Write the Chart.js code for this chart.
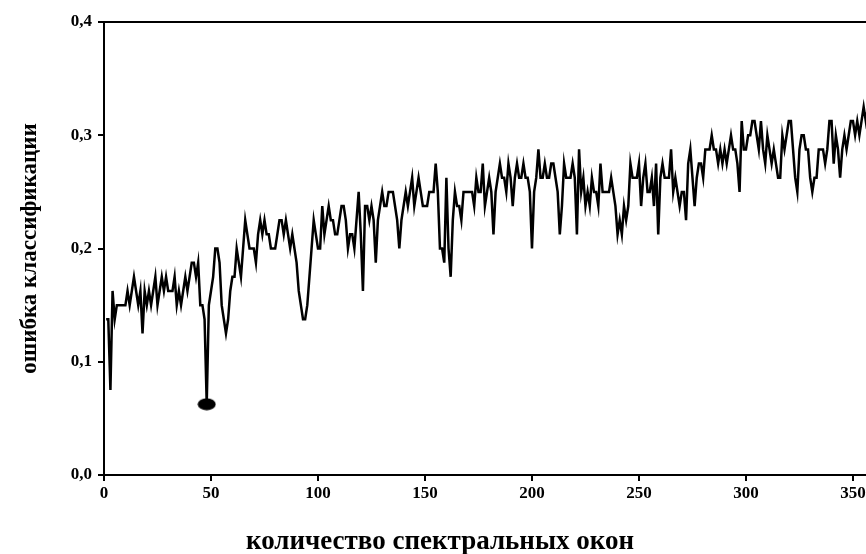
<!DOCTYPE html>
<html>
<head>
<meta charset="utf-8">
<script src="https://cdn.jsdelivr.net/npm/chart.js@4/dist/chart.umd.min.js"></script>
<style>
  html, body { margin: 0; padding: 0; background: #fff; overflow: hidden; }
  #wrap { position: absolute; left: 0; top: 0; width: 930px; height: 554px; }
</style>
</head>
<body>
<div id="wrap"><canvas id="errChart"></canvas></div>
<script>
// classification error for 1..357 spectral windows
const errorRate = [
  .1375, .1375, .075, .1625, .1375, .15, .15, .15, .15, .15,
  .1625, .15, .1625, .175, .1625, .15, .1625, .125, .1625, .15,
  .1625, .15, .1625, .175, .15, .1625, .175, .1625, .175, .1625,
  .1625, .1625, .175, .15, .1625, .15, .1625, .175, .1625, .175,
  .1875, .1875, .175, .1875, .15, .15, .1375, .0625, .15, .1625,
  .175, .2, .2, .1875, .15, .1375, .125, .1375, .1625, .175,
  .175, .2, .1875, .175, .2, .225, .2125, .2, .2, .2,
  .1875, .2125, .225, .2125, .225, .2125, .2125, .2, .2, .2,
  .2125, .225, .225, .2125, .225, .2125, .2, .2125, .2, .1875,
  .1625, .15, .1375, .1375, .15, .175, .2, .225, .2125, .2,
  .2, .2375, .2125, .225, .2375, .225, .225, .2125, .2125, .225,
  .2375, .2375, .225, .2, .2125, .2125, .2, .225, .25, .2125,
  .1625, .2375, .2375, .225, .2375, .225, .1875, .225, .2375, .25,
  .2375, .2375, .25, .25, .25, .2375, .225, .2, .225, .2375,
  .25, .2375, .25, .2625, .2375, .25, .2625, .25, .2375, .2375,
  .2375, .25, .25, .25, .275, .25, .2, .2, .1875, .2625,
  .2, .175, .225, .25, .2375, .2375, .225, .25, .25, .25,
  .25, .25, .2375, .2625, .25, .25, .275, .2375, .25, .2625,
  .25, .2125, .25, .2625, .275, .2625, .2625, .25, .275, .2625,
  .2375, .2625, .275, .2625, .2625, .275, .2625, .2625, .25, .2,
  .25, .2625, .2875, .2625, .2625, .275, .2625, .2625, .275, .275,
  .2625, .25, .2125, .2375, .275, .2625, .2625, .2625, .275, .2625,
  .2125, .2875, .25, .2625, .2375, .25, .2375, .2625, .25, .25,
  .2375, .275, .25, .25, .25, .25, .2625, .25, .2375, .2125,
  .225, .2125, .2375, .225, .2375, .275, .2625, .2625, .2625, .275,
  .2375, .2625, .275, .25, .25, .2625, .2375, .275, .2125, .2625,
  .275, .2625, .2625, .2625, .2875, .25, .2625, .25, .2375, .25,
  .25, .225, .275, .2875, .2625, .2375, .2625, .275, .275, .2625,
  .2875, .2875, .2875, .3, .2875, .2875, .275, .2875, .275, .2875,
  .275, .2875, .3, .2875, .2875, .275, .25, .3125, .2875, .2875,
  .3, .3, .3125, .3125, .3, .2875, .3125, .2875, .275, .3,
  .2875, .275, .2875, .275, .2625, .2625, .3, .2875, .3, .3125,
  .3125, .2875, .2625, .25, .2875, .3, .3, .2875, .2875, .2625,
  .25, .2625, .2625, .2875, .2875, .2875, .275, .2875, .3125, .3125,
  .275, .3, .2875, .2625, .2875, .3, .2875, .3, .3125, .3125,
  .3, .3125, .3, .3125, .325, .3125, .325
];
const firstWindow = 1;
const bestWindow = 48;        // marked minimum
const xTickValues = [0, 50, 100, 150, 200, 250, 300, 350];
const yTickValues = [0, 0.1, 0.2, 0.3, 0.4];
const xTitle = "количество спектральных окон";
const yTitle = "ошибка классификации";

const points = errorRate.map((v, i) => ({ x: firstWindow + i, y: v }));

// filled ellipse used as the marker
const dot = document.createElement("canvas");
dot.width = 19; dot.height = 13;
const dctx = dot.getContext("2d");
dctx.fillStyle = "#000";
dctx.beginPath();
dctx.ellipse(9.5, 6.5, 9, 6, 0, 0, Math.PI * 2);
dctx.fill();

const serif = "'Liberation Serif', 'Times New Roman', serif";
const tickFont = { family: serif, weight: "bold", size: 17 };

const xTitlePlugin = {
  id: "xTitle",
  afterDraw(chart) {
    const c = chart.ctx;
    c.save();
    c.font = "bold 27px " + serif;
    c.fillStyle = "#000";
    c.textAlign = "center";
    c.textBaseline = "middle";
    c.fillText(xTitle, 440, 542);
    c.restore();
  }
};

new Chart(document.getElementById("errChart"), {
  type: "line",
  data: {
    datasets: [{
      data: points,
      borderColor: "#000",
      borderWidth: 2.5,
      tension: 0,
      pointRadius: ctx => (ctx.raw && ctx.raw.x === bestWindow ? 7 : 0),
      pointStyle: ctx => (ctx.raw && ctx.raw.x === bestWindow ? dot : "circle"),
      pointBackgroundColor: "#000"
    }]
  },
  options: {
    responsive: true,
    maintainAspectRatio: false,
    animation: false,
    layout: { padding: { top: 22, left: 0, right: 0, bottom: 0 } },
    plugins: { legend: { display: false }, tooltip: { enabled: false } },
    scales: {
      x: {
        type: "linear",
        min: 0,
        max: 386,
        afterFit(s) { s.height = 79; },
        afterBuildTicks(s) { s.ticks = xTickValues.map(v => ({ value: v })); },
        grid: { drawOnChartArea: false, drawTicks: true, tickLength: 6, color: "#000", lineWidth: 2 },
        border: { display: true, color: "#000", width: 2 },
        ticks: { color: "#000", font: tickFont, padding: 2, maxRotation: 0, autoSkip: false }
      },
      xTop: {
        type: "linear",
        position: "top",
        min: 0,
        max: 386,
        afterFit(s) { s.height = 0; },
        grid: { display: false },
        border: { display: true, color: "#000", width: 2 },
        ticks: { display: false }
      },
      y: {
        min: 0,
        max: 0.4,
        afterFit(s) { s.width = 104; },
        afterBuildTicks(s) { s.ticks = yTickValues.map(v => ({ value: v })); },
        grid: { drawOnChartArea: false, drawTicks: true, tickLength: 6, color: "#000", lineWidth: 2 },
        border: { display: true, color: "#000", width: 2 },
        ticks: {
          color: "#000",
          font: tickFont,
          padding: 6,
          callback: v => v.toFixed(1).replace(".", ",")
        },
        title: {
          display: true,
          text: yTitle,
          color: "#000",
          font: { family: serif, weight: "bold", size: 23 },
          padding: { top: 16, bottom: 0 }
        }
      }
    }
  },
  plugins: [xTitlePlugin]
});
</script>
</body>
</html>
